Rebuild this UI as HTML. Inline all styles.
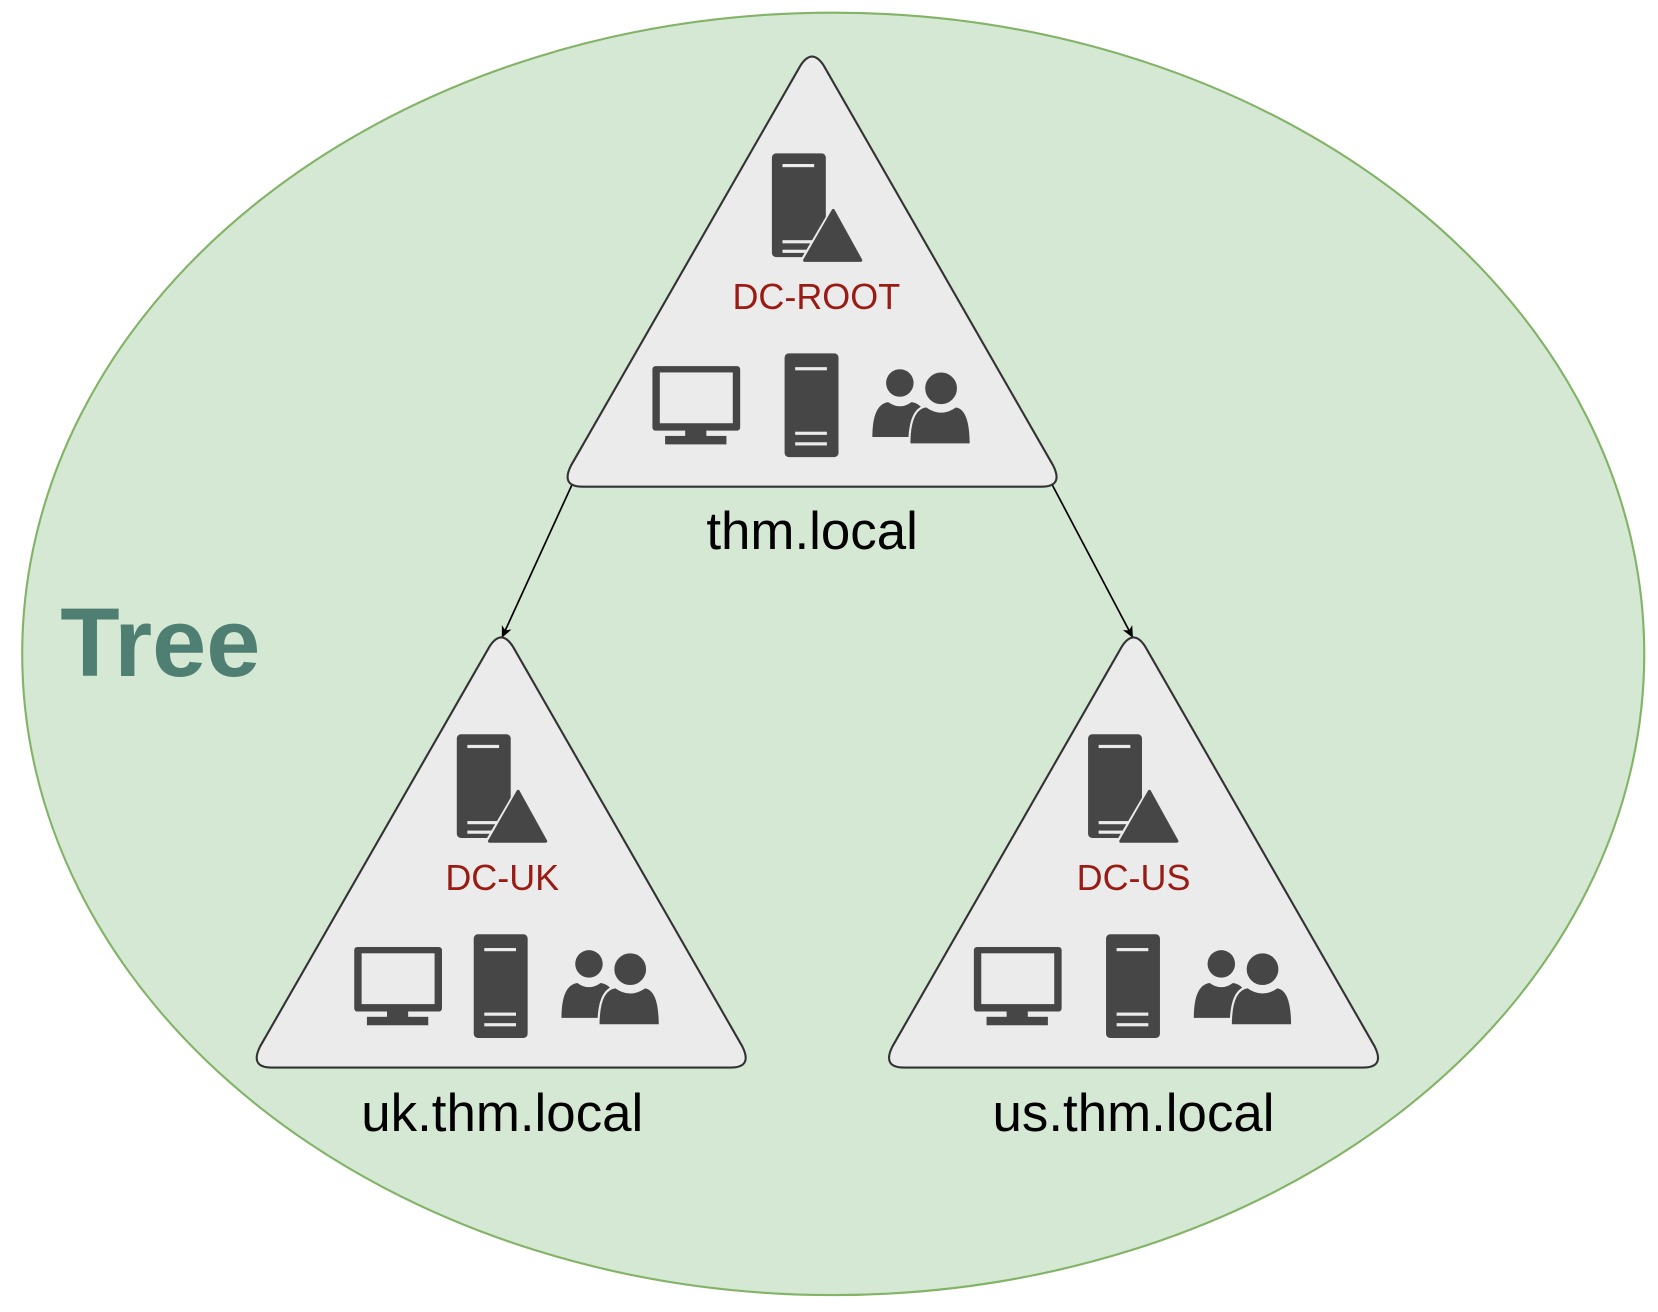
<!DOCTYPE html>
<html><head><meta charset="utf-8"><style>html,body{margin:0;padding:0;background:#fff}svg{display:block}</style></head>
<body>
<svg width="1658" height="1312" viewBox="0 0 1568 1240" xmlns="http://www.w3.org/2000/svg" preserveAspectRatio="none">
<defs>
<marker id="ah" markerWidth="12" markerHeight="12" refX="10" refY="6" orient="auto" markerUnits="userSpaceOnUse">
<path d="M0,1 L11,6 L0,11 L3,6 Z" fill="#000"/>
</marker>
<path id="shape" d="M757,62 Q768,45 779,62 L996,440 Q1006,460 985,460 L551,460 Q530,460 540,440 Z" fill="#ebebeb" stroke="#333" stroke-width="2"/>
<g id="dc">
<rect x="730" y="145" width="51" height="98" rx="4" fill="#464646"/>
<rect x="740" y="155" width="30" height="3" fill="#ebebeb"/>
<rect x="740" y="227" width="30" height="3" fill="#ebebeb"/>
<rect x="740" y="236" width="30" height="3" fill="#ebebeb"/>
<path d="M788,193 L819,249 L755,249 Z" fill="#ebebeb"/>
<path d="M788,199 L814,246 L761,246 Z" fill="#464646" stroke="#464646" stroke-width="3" stroke-linejoin="round"/>
</g>
<g id="mon">
<rect x="617" y="346" width="83" height="61" rx="3" fill="#464646"/>
<rect x="624" y="352" width="69" height="48" fill="#ebebeb"/>
<rect x="648" y="405" width="20" height="8" fill="#464646"/>
<rect x="629" y="412" width="58" height="8" fill="#464646"/>
</g>
<g id="srv">
<rect x="742" y="334" width="51" height="98" rx="4" fill="#464646"/>
<rect x="752" y="347" width="30" height="3" fill="#ebebeb"/>
<rect x="752" y="408" width="30" height="3" fill="#ebebeb"/>
<rect x="752" y="418" width="30" height="3" fill="#ebebeb"/>
</g>
<g id="usr">
<circle cx="851" cy="362" r="13" fill="#464646"/>
<path d="M825,413 Q825,382 840,380 Q851,388 862,380 Q878,382 878,413 Z" fill="#464646"/>
<circle cx="890" cy="367" r="16" fill="#464646" stroke="#ebebeb" stroke-width="2"/>
<path d="M860,420 Q860,386 876,384 Q890,394 904,384 Q918,386 918,420 Z" fill="#464646" stroke="#ebebeb" stroke-width="2"/>
</g>
</defs>
<ellipse cx="788" cy="618" rx="767" ry="606" fill="#d5e8d4" stroke="#82b366" stroke-width="2"/>
<text x="57" y="639" font-family="Liberation Sans, sans-serif" font-weight="bold" font-size="92" fill="#4f7f72">Tree</text>
<line x1="541" y1="458" x2="475" y2="602" stroke="#000" stroke-width="1.6" marker-end="url(#ah)"/>
<line x1="995" y1="458" x2="1071" y2="602" stroke="#000" stroke-width="1.6" marker-end="url(#ah)"/>
<use href="#shape"/><use href="#dc"/><use href="#mon"/><use href="#srv"/><use href="#usr"/>
<g transform="translate(-294,549)">
<use href="#shape"/><use href="#dc" transform="translate(-4,0)"/><use href="#mon" transform="translate(12,0)"/><use href="#srv"/><use href="#usr"/>
</g>
<g transform="translate(304,549)">
<use href="#shape"/><use href="#dc" transform="translate(-5,0)"/><use href="#mon"/><use href="#srv"/><use href="#usr"/>
</g>
<g font-family="Liberation Sans, sans-serif" text-anchor="middle">
<text x="772" y="292" font-size="34" fill="#9a1b14">DC-ROOT</text>
<text x="475" y="841" font-size="34" fill="#9a1b14">DC-UK</text>
<text x="1072" y="841" font-size="34" fill="#9a1b14">DC-US</text>
<text x="768" y="519" font-size="50" fill="#000">thm.local</text>
<text x="475" y="1069" font-size="50" fill="#000">uk.thm.local</text>
<text x="1072" y="1069" font-size="50" fill="#000">us.thm.local</text>
</g>
</svg>
</body></html>
